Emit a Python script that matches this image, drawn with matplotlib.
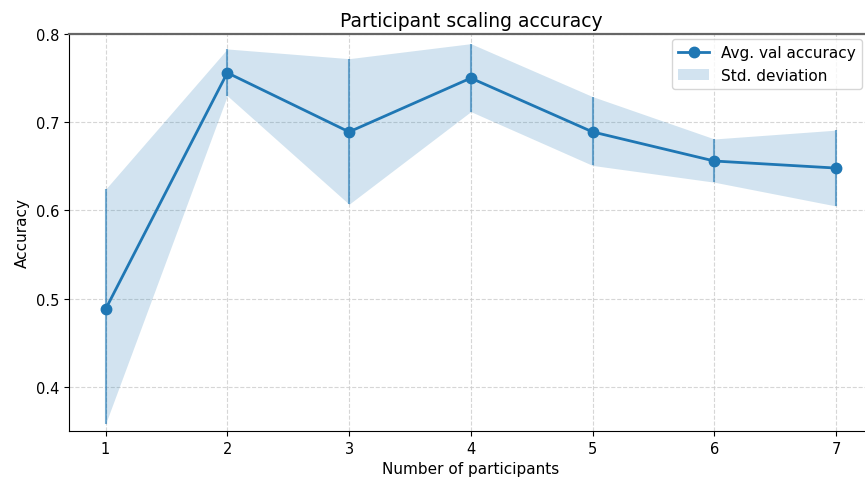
import matplotlib
matplotlib.use("Agg")
import matplotlib.pyplot as plt
import numpy as np

participants = [1, 2, 3, 4, 5, 6, 7]
mean_acc = [0.488, 0.756, 0.689, 0.750, 0.689, 0.656, 0.648]
std_upper = [0.624, 0.783, 0.772, 0.789, 0.729, 0.681, 0.691]
std_lower = [0.358, 0.730, 0.607, 0.712, 0.651, 0.632, 0.605]

fig = plt.figure(figsize=(8.65, 4.85), dpi=100)
ax = fig.add_axes([0.0798, 0.1093, 0.929, 0.8186])

x = np.array(participants)
m = np.array(mean_acc)
up = np.array(std_upper)
lo = np.array(std_lower)

ax.fill_between(x, lo, up, color="C0", alpha=0.2, linewidth=0, label="Std. deviation")
ax.vlines(x, lo, up, color="C0", alpha=0.6, linewidth=1.5)
ax.plot(x, m, "-o", color="C0", linewidth=2, markersize=7.5, label="Avg. val accuracy")

ax.set_xlim(0.7, 7.3)
ax.set_ylim(0.35, 0.8)
ax.set_xticks(participants)
ax.set_yticks([0.4, 0.5, 0.6, 0.7, 0.8])
ax.tick_params(labelsize=10.5)
ax.grid(True, linestyle="--", color="#cccccc", alpha=0.8)
ax.set_axisbelow(True)
ax.spines["top"].set_color("#666666")
ax.spines["top"].set_linewidth(1.6)
ax.set_xlabel("Number of participants", fontsize=11)
ax.set_ylabel("Accuracy", fontsize=11)
ax.set_title("Participant scaling accuracy", fontsize=13.5)

handles, labels = ax.get_legend_handles_labels()
ax.legend(handles[::-1], labels[::-1], loc="upper right", fontsize=11,
          bbox_to_anchor=(862 / 865, 1 - 40 / 485), bbox_transform=fig.transFigure,
          borderaxespad=0)

fig.savefig("out.png", dpi=100)
